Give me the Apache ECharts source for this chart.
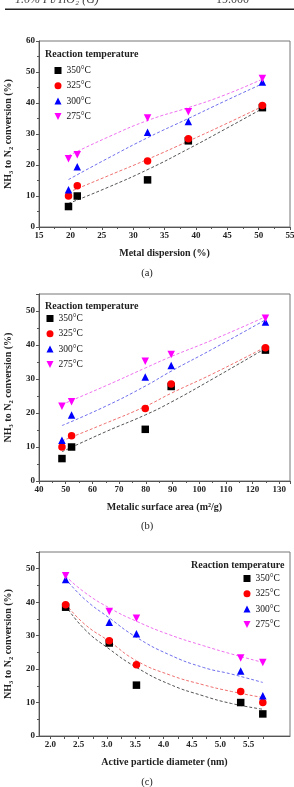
<!DOCTYPE html>
<html>
<head>
<meta charset="utf-8">
<script src="https://cdn.jsdelivr.net/npm/echarts@6/dist/echarts.min.js"></script>
<style>
  html, body { margin: 0; padding: 0; background: #fff; }
  #chart { width: 294px; height: 787px; }
</style>
</head>
<body>
<div id="chart"></div>
<script>
// measured points, same conversions in all three panels
var tempNames = ["350°C", "325°C", "300°C", "275°C"];
var dispersion = [19.7, 21.1, 32.3, 38.8, 50.6];
var surfaceArea = [48.6, 52.2, 79.8, 89.5, 124.8];
var particleDiameter = [5.75, 5.36, 3.52, 3.04, 2.27];
var conv350 = [6.6, 10, 15.2, 27.8, 38.5];
var conv325 = [10, 13.3, 21.3, 28.5, 39.2];
var conv300 = [12, 19.4, 30.6, 34, 46.8];
var conv275 = [22, 23.3, 35.2, 37.2, 47.9];

// dashed fit curves
var fitAx = [19.7, 26, 32.5, 38.8, 44.5, 50.6];
var fitA350 = [7.6, 12.8, 18.7, 25.2, 31.4, 38.2];
var fitA325 = [11.2, 16.5, 22, 27.7, 33, 38.9];
var fitA300 = [15.3, 22.2, 29, 35, 40.5, 46.2];
var fitA275 = [23, 29, 34.5, 38.5, 42.5, 47.7];

var fitBx = [48.6, 65, 80, 89.5, 105, 124.8];
var fitB350 = [8.6, 14.5, 19.5, 23.2, 30, 39];
var fitB325 = [11.8, 17, 22, 25.8, 31.5, 39.4];
var fitB300 = [16.3, 22, 28, 32.3, 38.8, 47.4];
var fitB275 = [22.5, 28, 33.3, 36.6, 41.5, 48.3];

var fitCx = [2.27, 2.6, 3.04, 3.52, 4.1, 4.7, 5.2, 5.75];
var fitC350 = [39, 32, 26, 20.5, 15.5, 12, 9.7, 8];
var fitC325 = [39.5, 33.5, 28.3, 22.5, 18.3, 15.3, 13.3, 11.5];
var fitC300 = [47, 41, 35.3, 29.5, 24.3, 20.5, 18.5, 16];
var fitC275 = [47.8, 43, 38.3, 34.3, 30.3, 27, 24.5, 22];

var xTicksC = [2, 2.25, 2.5, 2.75, 3, 3.25, 3.5, 3.75, 4, 4.25, 4.5, 4.75, 5, 5.25, 5.5, 5.75, 6];
var xLabelsC = [2, 2.5, 3, 3.5, 4, 4.5, 5, 5.5, 6];

var serif = "Liberation Serif";
var markColors = ["#000000", "#ff0000", "#0000ff", "#ff00ff"];
var fitColors = ["#555555", "#f07070", "#6f6fee", "#f070f0"];
var symbols = ["rect", "circle", "triangle", "path://M0,0 L10,0 L5,10 Z"];
var convs = [conv350, conv325, conv300, conv275];

function pairs(xs, ys) {
  return xs.map(function (x, i) { return [x, ys[i]]; });
}

function xAxisOf(grid, min, max, interval, name) {
  return {
    type: "value", gridIndex: grid, min: min, max: max, interval: interval,
    name: name, nameLocation: "middle", nameGap: 21,
    nameTextStyle: { fontFamily: serif, fontWeight: "bold", fontSize: 10, color: "#222" },
    axisLine: { show: true, lineStyle: { color: "#555" } },
    axisTick: { show: true, length: 3, lineStyle: { color: "#555" } },
    minorTick: { show: true, splitNumber: 2, length: 2, lineStyle: { color: "#555" } },
    splitLine: { show: false },
    axisLabel: { fontFamily: serif, fontWeight: "bold", fontSize: 9, color: "#222", margin: 4, showMaxLabel: max % interval === 0 }
  };
}

function yAxisOf(grid, max) {
  return {
    type: "value", gridIndex: grid, min: 0, max: max, interval: 10,
    name: "{b|NH}{s|3}{b| to N}{s|2}{b| conversion (%)}",
    nameLocation: "middle", nameGap: 24, nameRotate: 90,
    nameTextStyle: {
      rich: {
        b: { fontFamily: serif, fontWeight: "bold", fontSize: 10, color: "#222", lineHeight: 13, verticalAlign: "bottom" },
        s: { fontFamily: serif, fontWeight: "bold", fontSize: 6.5, color: "#222", lineHeight: 13, verticalAlign: "bottom", padding: [0, 0, -2, 0] }
      }
    },
    axisLine: { show: true, lineStyle: { color: "#555" } },
    axisTick: { show: true, length: 3, lineStyle: { color: "#555" } },
    minorTick: { show: true, splitNumber: 2, length: 2, lineStyle: { color: "#555" } },
    splitLine: { show: false },
    axisLabel: { fontFamily: serif, fontWeight: "bold", fontSize: 9, color: "#222", margin: 4, showMaxLabel: max % 10 === 0 }
  };
}

var series = [];
function addPanel(grid, xs, fitX, fits) {
  fits.forEach(function (f, k) {
    series.push({
      name: "fit" + grid + k, type: "line", xAxisIndex: grid, yAxisIndex: grid,
      data: pairs(fitX, f), smooth: true, showSymbol: false, silent: true, z: 1,
      lineStyle: { color: fitColors[k], width: 1, type: [3, 2] }
    });
  });
  convs.forEach(function (c, k) {
    series.push({
      name: tempNames[k], type: "scatter", xAxisIndex: grid, yAxisIndex: grid,
      data: pairs(xs, c), symbol: symbols[k], symbolSize: 7.5, z: 3,
      itemStyle: { color: markColors[k], opacity: 1 }
    });
  });
}
addPanel(0, dispersion, fitAx, [fitA350, fitA325, fitA300, fitA275]);
addPanel(1, surfaceArea, fitBx, [fitB350, fitB325, fitB300, fitB275]);
addPanel(2, particleDiameter, fitCx, [fitC350, fitC325, fitC300, fitC275]);

function legendAt(left, top) {
  return {
    data: tempNames, orient: "vertical", left: left, top: top, padding: 0,
    itemWidth: 7, itemHeight: 7, itemGap: 5.3, selectedMode: false,
    textStyle: { fontFamily: serif, fontSize: 9.5, color: "#111" }
  };
}

function titleAt(left, top) {
  return {
    text: "Reaction temperature", left: left, top: top, padding: 0,
    textStyle: { fontFamily: serif, fontWeight: "bold", fontSize: 10, color: "#222" }
  };
}

function gridAt(top, height) {
  return {
    left: 39, top: top, width: 251, height: height, show: true,
    borderColor: "#777", borderWidth: 1, containLabel: false, outerBoundsMode: "none"
  };
}

var xC = xAxisOf(2, 1.8, 6.23, 0.5, "Active particle diameter (nm)");
xC.interval = null;
xC.minorTick = { show: false };
xC.axisTick.customValues = xTicksC;
xC.axisLabel.customValues = xLabelsC;
xC.axisLabel.formatter = function (v) { return v.toFixed(1); };

var chart = echarts.init(document.getElementById("chart"), null, { renderer: "canvas" });
chart.setOption({
  animation: false,
  backgroundColor: "#fff",
  title: [titleAt(45, 49), titleAt(45, 301), titleAt(191, 560)],
  legend: [legendAt(54.5, 65.5), legendAt(46.5, 313.5), legendAt(243.5, 573.5)],
  grid: [gridAt(41, 186), gridAt(294, 187), gridAt(552, 184)],
  xAxis: [
    xAxisOf(0, 15, 55, 5, "Metal dispersion (%)"),
    xAxisOf(1, 40, 134, 10, "Metalic surface area (m²/g)"),
    xC
  ],
  yAxis: [yAxisOf(0, 60), yAxisOf(1, 55), yAxisOf(2, 55)],
  series: series,
  graphic: [
    { type: "text", left: 15, top: -6, style: { text: "1.0% Pt/TiO₂ (G)", fontFamily: serif, fontSize: 12, fontStyle: "italic", fill: "#444" } },
    { type: "text", left: 216, top: -6, style: { text: "19.000", fontFamily: serif, fontSize: 12, fill: "#444" } },
    { type: "rect", shape: { x: 5, y: 8.5, width: 289, height: 1.6 }, style: { fill: "#222" } },
    { type: "text", left: "center", top: 268, style: { text: "(a)", fontFamily: serif, fontSize: 10.5, fill: "#222" } },
    { type: "text", left: "center", top: 521, style: { text: "(b)", fontFamily: serif, fontSize: 10.5, fill: "#222" } },
    { type: "text", left: "center", top: 777, style: { text: "(c)", fontFamily: serif, fontSize: 10.5, fill: "#222" } }
  ]
});
window.addEventListener("resize", function () {
  chart.resize();
});
</script>
</body>
</html>
